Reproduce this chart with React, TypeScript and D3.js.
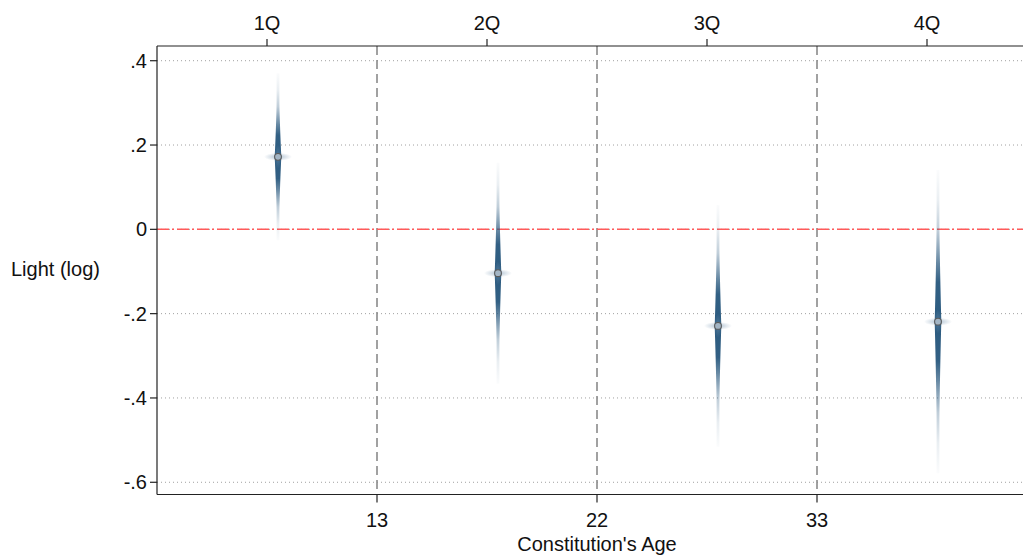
import React from "react";
import * as d3 from "d3";

const quartiles = ["1Q", "2Q", "3Q", "4Q"];
const boundaryLabels = ["13", "22", "33"];
const estimates = [0.172, -0.104, -0.229, -0.219];
const ciLow = [-0.025, -0.365, -0.517, -0.578];
const ciHigh = [0.371, 0.159, 0.057, 0.141];
const yTicks = [0.4, 0.2, 0, -0.2, -0.4, -0.6];
const yTickLabels = [".4", ".2", "0", "-.2", "-.4", "-.6"];

const W = 1023;
const H = 555;
const left = 157;
const right = 1037;
const top = 46;
const bottom = 494.5;
const FONT = "'Liberation Sans', Arial, sans-serif";
const BLUE = "#2c5b80";

export default function App() {
  const x = d3.scaleLinear().domain([0.5, 4.5]).range([left, right]);
  const y = d3.scaleLinear().domain([0.4349, -0.629]).range([top, bottom]);
  const ptOffset = 0.05;

  const ts = d3.range(-1, 1.0001, 0.02);
  const spindle = (i: number) => {
    const cx = x(i + 1 + ptOffset);
    const mid = estimates[i];
    const half = (ciHigh[i] - ciLow[i]) / 2;
    const hw = (t: number) => 1.4 + 1.9 * Math.pow(Math.max(0, 1 - Math.abs(t) / 0.65), 1.3);
    const area = d3
      .area<number>()
      .y((t) => y(mid + t * half))
      .x0((t) => cx - hw(t))
      .x1((t) => cx + hw(t))
      .curve(d3.curveLinear);
    return area(ts) || "";
  };

  return (
    <svg
      width={W}
      height={H}
      style={{ position: "absolute", left: 0, top: 0, background: "#fff" }}
      fontFamily={FONT}
    >
      <defs>
        <linearGradient id="spikeGrad" x1="0" y1="0" x2="0" y2="1">
          <stop offset="0" stopColor={BLUE} stopOpacity={0.02} />
          <stop offset="0.1" stopColor={BLUE} stopOpacity={0.1} />
          <stop offset="0.2" stopColor={BLUE} stopOpacity={0.3} />
          <stop offset="0.3" stopColor={BLUE} stopOpacity={0.7} />
          <stop offset="0.37" stopColor={BLUE} stopOpacity={0.97} />
          <stop offset="0.5" stopColor={BLUE} stopOpacity={1} />
          <stop offset="0.63" stopColor={BLUE} stopOpacity={0.97} />
          <stop offset="0.7" stopColor={BLUE} stopOpacity={0.7} />
          <stop offset="0.8" stopColor={BLUE} stopOpacity={0.3} />
          <stop offset="0.9" stopColor={BLUE} stopOpacity={0.1} />
          <stop offset="1" stopColor={BLUE} stopOpacity={0.02} />
        </linearGradient>
        <radialGradient id="halo">
          <stop offset="0" stopColor="#6f90ad" stopOpacity={0.55} />
          <stop offset="1" stopColor="#6f90ad" stopOpacity={0} />
        </radialGradient>
        <clipPath id="plotClip">
          <rect x={left} y={top} width={right - left} height={bottom - top} />
        </clipPath>
      </defs>

      {/* grid lines */}
      {yTicks.map((v, i) => (
        <line
          key={"g" + i}
          x1={left}
          x2={right}
          y1={y(v)}
          y2={y(v)}
          stroke="#a0a0a0"
          strokeWidth={1}
          strokeDasharray="1 3"
        />
      ))}

      {/* vertical boundaries */}
      {boundaryLabels.map((b, i) => (
        <line
          key={"v" + i}
          x1={x(i + 1.5)}
          x2={x(i + 1.5)}
          y1={top}
          y2={bottom}
          stroke="#8a8a8a"
          strokeWidth={1.6}
          strokeDasharray="9 5"
        />
      ))}

      {/* zero line */}
      <line
        x1={left}
        x2={right}
        y1={y(0)}
        y2={y(0)}
        stroke="#ff5a5a"
        strokeWidth={1.5}
        strokeDasharray="12 3 2 3"
      />

      {/* spikes */}
      <g clipPath="url(#plotClip)">
        {estimates.map((e, i) => (
          <path key={"s" + i} d={spindle(i)} fill="url(#spikeGrad)" />
        ))}
        {estimates.map((e, i) => {
          const cx = x(i + 1 + ptOffset);
          const cy = y(e);
          return (
            <g key={"m" + i}>
              <ellipse cx={cx} cy={cy} rx={14} ry={4} fill="url(#halo)" />
              <ellipse cx={cx} cy={cy} rx={4} ry={12} fill="url(#halo)" />
              <circle cx={cx} cy={cy} r={3.4} fill="#a3b5c5" stroke="#5a5a5a" strokeWidth={1.1} />
            </g>
          );
        })}
      </g>

      {/* frame */}
      <line x1={left} x2={left} y1={top} y2={bottom} stroke="#222" strokeWidth={1.2} />
      <line x1={left} x2={right} y1={top} y2={top} stroke="#222" strokeWidth={1.2} />
      <line x1={left} x2={right} y1={bottom} y2={bottom} stroke="#222" strokeWidth={1.2} />

      {/* y axis ticks */}
      {yTicks.map((v, i) => (
        <g key={"yt" + i}>
          <line x1={left - 7} x2={left} y1={y(v)} y2={y(v)} stroke="#222" strokeWidth={1.2} />
          <text
            x={left - 10}
            y={y(v)}
            textAnchor="end"
            dominantBaseline="central"
            fontSize={20}
            fill="#111"
          >
            {yTickLabels[i]}
          </text>
        </g>
      ))}
      <text x={11} y={269} dominantBaseline="central" fontSize={20} fill="#111">
        Light (log)
      </text>

      {/* bottom axis */}
      {boundaryLabels.map((b, i) => (
        <g key={"bt" + i}>
          <line
            x1={x(i + 1.5)}
            x2={x(i + 1.5)}
            y1={bottom}
            y2={bottom + 8}
            stroke="#222"
            strokeWidth={1.2}
          />
          <text x={x(i + 1.5)} y={527} textAnchor="middle" fontSize={20} fill="#111">
            {b}
          </text>
        </g>
      ))}
      <text x={(left + right) / 2} y={551} textAnchor="middle" fontSize={20} fill="#111">
        Constitution's Age
      </text>

      {/* top axis */}
      {quartiles.map((q, i) => (
        <g key={"tt" + i}>
          <line x1={x(i + 1)} x2={x(i + 1)} y1={top - 7} y2={top} stroke="#222" strokeWidth={1.2} />
          <text x={x(i + 1)} y={30} textAnchor="middle" fontSize={20} fill="#111">
            {q}
          </text>
        </g>
      ))}
    </svg>
  );
}
